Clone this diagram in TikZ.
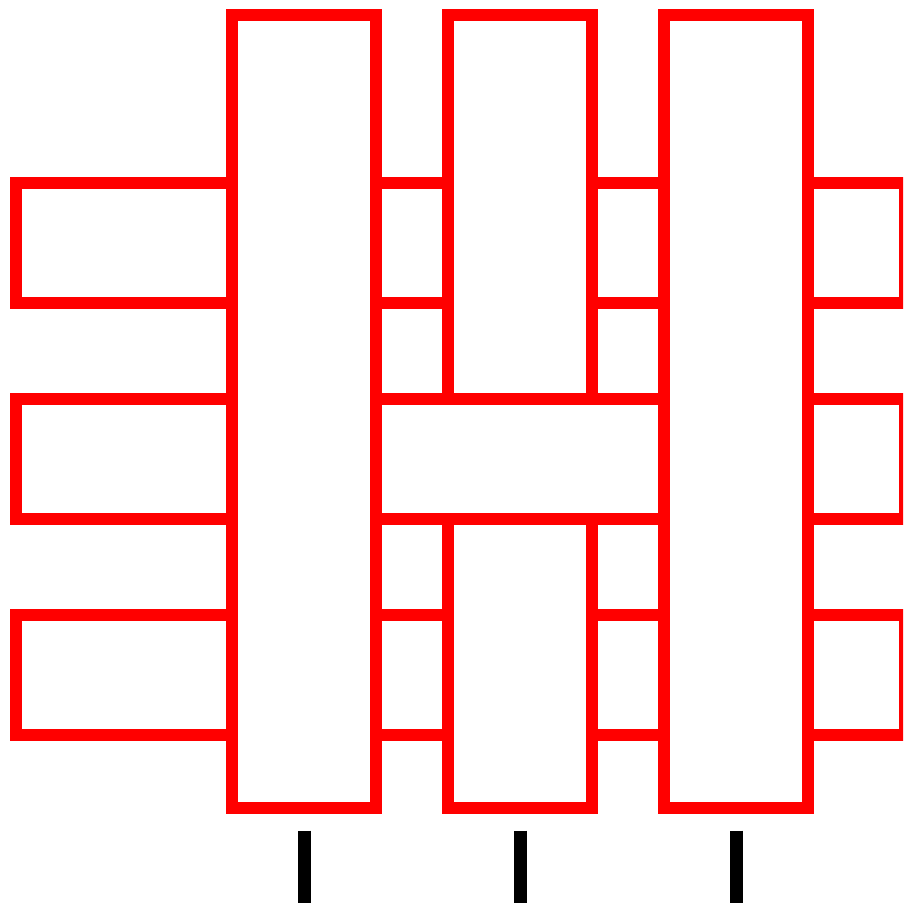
\documentclass[tikz,border=0pt]{standalone}
\begin{document}
\begin{tikzpicture}[x=1pt,y=1pt,
  strip/.style={draw=red,fill=white,line width=12pt,line join=miter},
  tick/.style={draw=black,line width=12.5pt,line cap=butt}]
\clip (0,0) rectangle (903,905);
\fill[white] (0,0) rectangle (903,905);
% horizontal strips 1 and 3 (under)
\path[strip] (16,602) rectangle (904.7,722);
\path[strip] (16,170) rectangle (904.7,290);
% vertical strip 2
\path[strip] (448.3,96.7) rectangle (592.3,890.3);
% horizontal strip 2 (over vertical 2)
\path[strip] (16,386) rectangle (904.7,506);
% vertical strips 1 and 3 (over all)
\path[strip] (232.3,96.7) rectangle (376.3,890.3);
\path[strip] (664.3,96.7) rectangle (808.3,890.3);
% ticks
\coordinate (t1a) at (304.3,74.3); \coordinate (t1b) at (304.3,2.3);
\coordinate (t2a) at (520.3,74.3); \coordinate (t2b) at (520.3,2.3);
\coordinate (t3a) at (736.6,74.3); \coordinate (t3b) at (736.6,2.3);
\draw[tick] (t1a) -- (t1b);
\draw[tick] (t2a) -- (t2b);
\draw[tick] (t3a) -- (t3b);
\end{tikzpicture}
\end{document}
